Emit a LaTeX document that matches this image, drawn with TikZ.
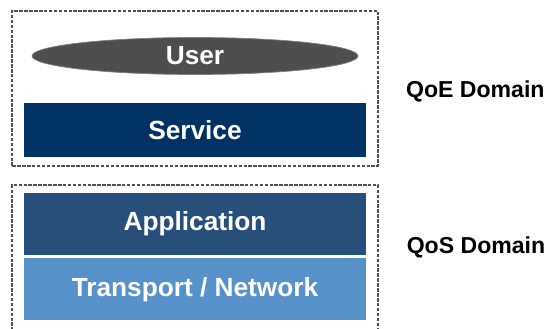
\documentclass[tikz,border=0pt]{standalone}
\usepackage{fontspec}
\setmainfont{Liberation Sans}
\usetikzlibrary{positioning,shapes.geometric}

\definecolor{userGray}{RGB}{78,78,78}
\definecolor{serviceBlue}{RGB}{0,50,100}
\definecolor{appBlue}{RGB}{38,80,122}
\definecolor{netBlue}{RGB}{86,145,201}
\definecolor{frameGray}{RGB}{80,80,80}

\tikzset{
  layer/.style={rectangle, minimum width=10.26cm, minimum height=1.86cm,
    text=white, font=\fontsize{22.4}{25}\selectfont\bfseries, inner sep=0pt},
  domainbox/.style={draw=frameGray, line width=1pt, dash pattern=on 3pt off 1.2pt},
  domainlabel/.style={font=\fontsize{19.7}{22}\selectfont\bfseries, text=black}
}

\begin{document}
\begin{tikzpicture}
  \useasboundingbox (0,0) rectangle (16.41,9.87);
  \clip (0,0) rectangle (16.41,9.87);
  % dashed frames of the two domains
  \draw[domainbox] (0.36,4.89) rectangle (11.34,9.54);
  \draw[domainbox] (0.36,-0.5) rectangle (11.34,4.32);
  % QoE part
  \node[ellipse, fill=userGray, draw=gray, line width=0.6pt, minimum width=9.78cm,
    minimum height=1.11cm, inner sep=0pt, text=white,
    font=\fontsize{22.4}{25}\selectfont\bfseries] (user) at (5.85,8.19) {User};
  \node[layer, fill=serviceBlue, minimum height=1.62cm] (service) at (5.85,5.97) {Service};
  % QoS part
  \node[layer, fill=appBlue] (app) at (5.85,3.15) {Application};
  \node[layer, fill=netBlue, below=0.09cm of app] (net) {Transport / Network};
  \node[domainlabel] (qoe) at (14.26,7.12) {QoE Domain};
  \node[domainlabel] (qos) at (14.28,2.46) {QoS Domain};
\end{tikzpicture}
\end{document}
